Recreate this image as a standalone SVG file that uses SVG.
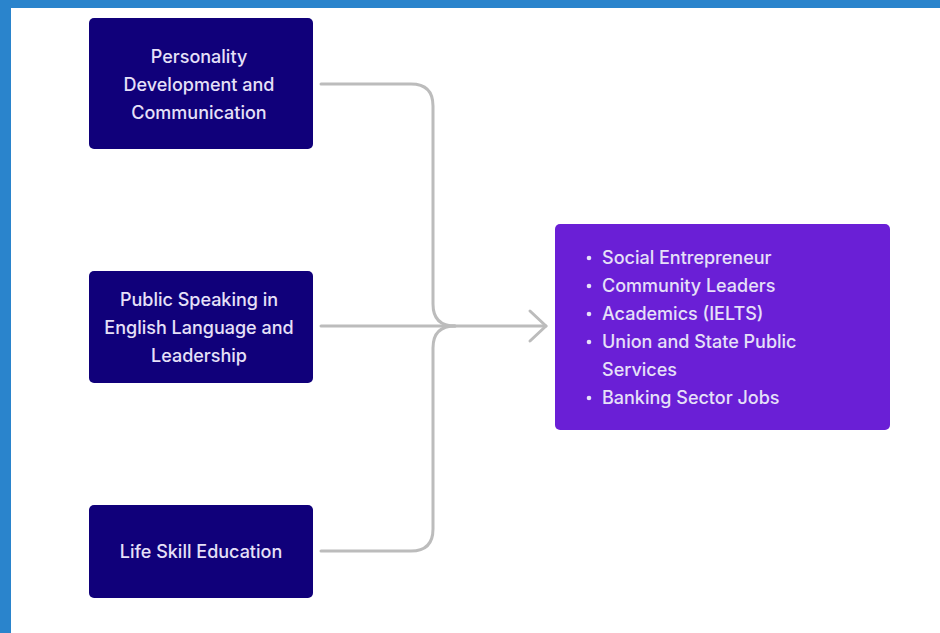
<svg xmlns="http://www.w3.org/2000/svg" width="940" height="633" viewBox="0 0 940 633">
<defs>
<style>
.node{fill:#10007a;}
.out{fill:#6a1fd6;}
.t{font-family:Inter,"Noto Sans","Liberation Sans",sans-serif;font-size:18px;font-weight:500;fill:#e6e0f8;text-anchor:middle;}
.l{font-family:Inter,"Noto Sans","Liberation Sans",sans-serif;font-size:18px;font-weight:500;fill:#e6e0f8;}
.c{fill:none;stroke:#bcbcbc;stroke-width:3;stroke-linecap:round;stroke-linejoin:round;}
</style>
</defs>
<rect x="0" y="0" width="940" height="633" fill="#ffffff"/>
<rect x="0" y="0" width="940" height="8" fill="#2a84cc"/>
<rect x="0" y="0" width="11" height="633" fill="#2a84cc"/>
<g id="connectors">
<path class="c" d="M321,84 H411 Q433,84 433,106 V304 Q433,326 455,326"/>
<path class="c" d="M321,551 H411 Q433,551 433,529 V348 Q433,326 455,326"/>
<path class="c" d="M321,326 H546"/>
<path class="c" d="M530,311 L546,326 L530,341"/>
</g>
<g id="node-personality">
<rect class="node" x="89" y="18" width="224" height="131" rx="5"/>
<text class="t" x="199" y="63">Personality</text>
<text class="t" x="199" y="91">Development and</text>
<text class="t" x="199" y="119">Communication</text>
</g>
<g id="node-public-speaking">
<rect class="node" x="89" y="271" width="224" height="112" rx="5"/>
<text class="t" x="199" y="306">Public Speaking in</text>
<text class="t" x="199" y="334">English Language and</text>
<text class="t" x="199" y="362">Leadership</text>
</g>
<g id="node-life-skill">
<rect class="node" x="89" y="505" width="224" height="93" rx="5"/>
<text class="t" x="201" y="558">Life Skill Education</text>
</g>
<g id="node-outcomes">
<rect class="out" x="555" y="224" width="335" height="206" rx="5"/>
<g fill="#e6e0f8">
<circle cx="589" cy="258" r="2.3"/>
<circle cx="589" cy="286" r="2.3"/>
<circle cx="589" cy="314" r="2.3"/>
<circle cx="589" cy="342" r="2.3"/>
<circle cx="589" cy="398" r="2.3"/>
</g>
<text class="l" x="602" y="264">Social Entrepreneur</text>
<text class="l" x="602" y="292">Community Leaders</text>
<text class="l" x="602" y="320">Academics (IELTS)</text>
<text class="l" x="602" y="348">Union and State Public</text>
<text class="l" x="602" y="376">Services</text>
<text class="l" x="602" y="404">Banking Sector Jobs</text>
</g>
</svg>
